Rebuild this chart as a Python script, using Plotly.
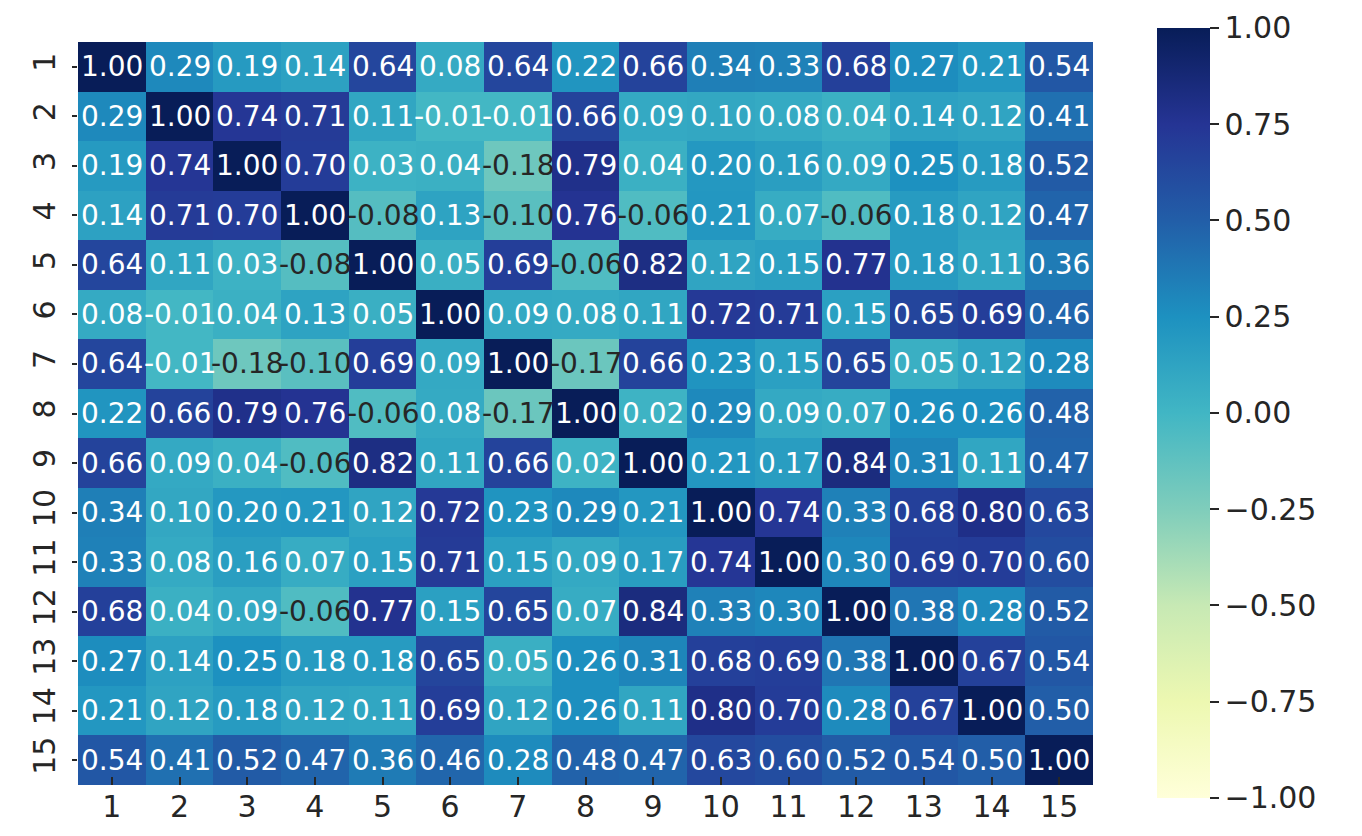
import plotly.graph_objects as go

labels = list(range(1, 16))

r1 = [1.00, 0.29, 0.19, 0.14, 0.64, 0.08, 0.64, 0.22, 0.66, 0.34, 0.33, 0.68, 0.27, 0.21, 0.54]
r2 = [0.29, 1.00, 0.74, 0.71, 0.11, -0.01, -0.01, 0.66, 0.09, 0.10, 0.08, 0.04, 0.14, 0.12, 0.41]
r3 = [0.19, 0.74, 1.00, 0.70, 0.03, 0.04, -0.18, 0.79, 0.04, 0.20, 0.16, 0.09, 0.25, 0.18, 0.52]
r4 = [0.14, 0.71, 0.70, 1.00, -0.08, 0.13, -0.10, 0.76, -0.06, 0.21, 0.07, -0.06, 0.18, 0.12, 0.47]
r5 = [0.64, 0.11, 0.03, -0.08, 1.00, 0.05, 0.69, -0.06, 0.82, 0.12, 0.15, 0.77, 0.18, 0.11, 0.36]
r6 = [0.08, -0.01, 0.04, 0.13, 0.05, 1.00, 0.09, 0.08, 0.11, 0.72, 0.71, 0.15, 0.65, 0.69, 0.46]
r7 = [0.64, -0.01, -0.18, -0.10, 0.69, 0.09, 1.00, -0.17, 0.66, 0.23, 0.15, 0.65, 0.05, 0.12, 0.28]
r8 = [0.22, 0.66, 0.79, 0.76, -0.06, 0.08, -0.17, 1.00, 0.02, 0.29, 0.09, 0.07, 0.26, 0.26, 0.48]
r9 = [0.66, 0.09, 0.04, -0.06, 0.82, 0.11, 0.66, 0.02, 1.00, 0.21, 0.17, 0.84, 0.31, 0.11, 0.47]
r10 = [0.34, 0.10, 0.20, 0.21, 0.12, 0.72, 0.23, 0.29, 0.21, 1.00, 0.74, 0.33, 0.68, 0.80, 0.63]
r11 = [0.33, 0.08, 0.16, 0.07, 0.15, 0.71, 0.15, 0.09, 0.17, 0.74, 1.00, 0.30, 0.69, 0.70, 0.60]
r12 = [0.68, 0.04, 0.09, -0.06, 0.77, 0.15, 0.65, 0.07, 0.84, 0.33, 0.30, 1.00, 0.38, 0.28, 0.52]
r13 = [0.27, 0.14, 0.25, 0.18, 0.18, 0.65, 0.05, 0.26, 0.31, 0.68, 0.69, 0.38, 1.00, 0.67, 0.54]
r14 = [0.21, 0.12, 0.18, 0.12, 0.11, 0.69, 0.12, 0.26, 0.11, 0.80, 0.70, 0.28, 0.67, 1.00, 0.50]
r15 = [0.54, 0.41, 0.52, 0.47, 0.36, 0.46, 0.28, 0.48, 0.47, 0.63, 0.60, 0.52, 0.54, 0.50, 1.00]

corr = [r1, r2, r3, r4, r5, r6, r7, r8, r9, r10, r11, r12, r13, r14, r15]

cbar_ticks = [1.0, 0.75, 0.5, 0.25, 0.0, -0.25, -0.5, -0.75, -1.0]

ylgnbu = ["#ffffd9", "#edf8b1", "#c7e9b4", "#7fcdbb", "#41b6c4",
          "#1d91c0", "#225ea8", "#253494", "#081d58"]
colorscale = [[i / (len(ylgnbu) - 1), c] for i, c in enumerate(ylgnbu)]


def hex2rgb(h):
    h = h.lstrip("#")
    return [int(h[i:i + 2], 16) for i in (0, 2, 4)]


def color_at(v, vmin=-1.0, vmax=1.0):
    t = (v - vmin) / (vmax - vmin)
    t = min(max(t, 0.0), 1.0)
    n = len(ylgnbu) - 1
    i = min(int(t * n), n - 1)
    f = t * n - i
    a, b = hex2rgb(ylgnbu[i]), hex2rgb(ylgnbu[i + 1])
    return [a[k] + (b[k] - a[k]) * f for k in range(3)]


def luminance(rgb):
    out = []
    for c in rgb:
        c = c / 255.0
        out.append(c / 12.92 if c <= 0.03928 else ((c + 0.055) / 1.055) ** 2.4)
    return 0.2126 * out[0] + 0.7152 * out[1] + 0.0722 * out[2]


fig = go.Figure()
fig.add_trace(go.Heatmap(
    z=corr, x=labels, y=labels,
    zmin=-1, zmax=1,
    colorscale=colorscale,
    colorbar=dict(
        x=1.063, xanchor="left", xpad=0,
        y=0.5007, yanchor="middle", ypad=0,
        len=770, lenmode="pixels",
        thickness=53, thicknessmode="pixels",
        outlinewidth=0,
        tickvals=cbar_ticks,
        tickformat=".2f",
        ticks="outside", ticklen=9, tickwidth=2, tickcolor="#262626",
        tickfont=dict(family="DejaVu Sans", size=30, color="#262626"),
    ),
))

annotations = []
for i, row in enumerate(corr):
    for j, v in enumerate(row):
        col = "#262626" if luminance(color_at(v)) > 0.408 else "#ffffff"
        annotations.append(dict(
            x=labels[j], y=labels[i], xref="x", yref="y",
            text=f"{v:.2f}", showarrow=False,
            font=dict(family="DejaVu Sans", size=28, color=col),
        ))

fig.update_layout(
    width=1354, height=828,
    margin=dict(l=70, r=269, t=34, b=51, autoexpand=False),
    paper_bgcolor="#ffffff",
    plot_bgcolor="#ffffff",
    annotations=annotations,
    xaxis=dict(
        range=[0.5, 15.5], tickmode="array", tickvals=labels,
        ticktext=[str(v) for v in labels], automargin=False,
        showgrid=False, zeroline=False, showline=False,
        ticks="inside", ticklen=8, tickwidth=2, tickcolor="#262626",
        tickfont=dict(family="DejaVu Sans", size=30, color="#262626"),
        ticklabelstandoff=1,
    ),
    yaxis=dict(
        range=[15.5, 0.5], tickmode="array", tickvals=labels,
        ticktext=[str(v) for v in labels], automargin=False,
        showgrid=False, zeroline=False, showline=False,
        ticks="outside", ticklen=5, tickwidth=2, tickcolor="#262626",
        tickangle=-90,
        tickfont=dict(family="DejaVu Sans", size=30, color="#262626"),
        ticklabelstandoff=5,
    ),
)

fig.write_html("out.html")
